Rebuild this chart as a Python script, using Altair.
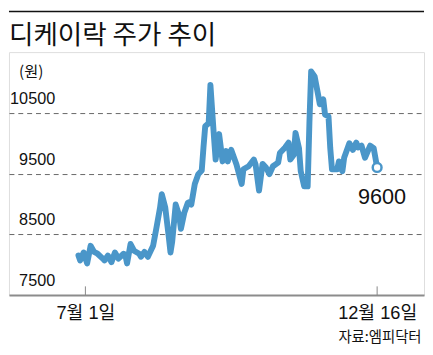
import altair as alt
import pandas as pd

# ---- data ----
dates = [
    "2020-06-27", "2020-06-28", "2020-06-30", "2020-07-02", "2020-07-04", "2020-07-06",
    "2020-07-08", "2020-07-11", "2020-07-12", "2020-07-14", "2020-07-16", "2020-07-18",
    "2020-07-20", "2020-07-23", "2020-07-24", "2020-07-25", "2020-07-27", "2020-07-29",
    "2020-08-01", "2020-08-02", "2020-08-04", "2020-08-06", "2020-08-09", "2020-08-11",
    "2020-08-13", "2020-08-14", "2020-08-16", "2020-08-18", "2020-08-19", "2020-08-20",
    "2020-08-22", "2020-08-24", "2020-08-25", "2020-08-27", "2020-08-29", "2020-08-30",
    "2020-08-31", "2020-09-02", "2020-09-04", "2020-09-06", "2020-09-07", "2020-09-08",
    "2020-09-10", "2020-09-11", "2020-09-13", "2020-09-14", "2020-09-16", "2020-09-18",
    "2020-09-20", "2020-09-21", "2020-09-23", "2020-09-26", "2020-09-29", "2020-09-30",
    "2020-10-03", "2020-10-06", "2020-10-07", "2020-10-09", "2020-10-11", "2020-10-13",
    "2020-10-15", "2020-10-17", "2020-10-20", "2020-10-21", "2020-10-24", "2020-10-26",
    "2020-10-27", "2020-10-29", "2020-10-30", "2020-11-01", "2020-11-02", "2020-11-04",
    "2020-11-06", "2020-11-07", "2020-11-08", "2020-11-10", "2020-11-12", "2020-11-13",
    "2020-11-15", "2020-11-16", "2020-11-18", "2020-11-19", "2020-11-20", "2020-11-23",
    "2020-11-24", "2020-11-26", "2020-11-27", "2020-11-30", "2020-12-02", "2020-12-04",
    "2020-12-05", "2020-12-07", "2020-12-09", "2020-12-12", "2020-12-14", "2020-12-16",
]
prices = [
    8150, 8070, 8200, 8020, 8310, 8210,
    8180, 8100, 8070, 8150, 8040, 8200,
    8100, 8180, 8160, 8020, 8340, 8230,
    8180, 8130, 8210, 8130, 8310, 8620,
    8940, 9160, 8940, 8460, 8200, 8380,
    8990, 8810, 8590, 8860, 9020, 9030,
    8990, 9330, 9490, 9550, 9930, 10280,
    10330, 10960, 10120, 9730, 10150, 9700,
    9870, 9700, 9890, 9650, 9330, 9570,
    9620, 9730, 9650, 9220, 9660, 9600,
    9490, 9620, 9680, 9840, 9930, 10010,
    9730, 9810, 10170, 9920, 9540, 9290,
    9290, 10330, 11180, 11100, 10800, 10640,
    10720, 10470, 10440, 9920, 9570, 9570,
    9700, 9540, 9760, 10000, 9890, 10010,
    9930, 9960, 9760, 9960, 9920, 9600,
]
tick_dates = ["2020-07-01", "2020-12-16"]
y_ticks = [7500, 8500, 9500, 10500]
x_domain = ["2020-05-18", "2021-01-12"]
y_domain = [7500, 11500]

title_text = "디케이락 주가 추이"
unit_text = "(원)"
source_text = "자료:엠피닥터"

# ---- styling ----
BLUE = "#4a96c9"
NUM_FONT = "Liberation Sans, Arial, Helvetica, Noto Sans CJK KR, sans-serif"
KR_FONT = "Noto Sans CJK KR"
W, H = 422, 247


def ms(d):
    return int(pd.Timestamp(d, tz="UTC").value // 10**6)


df = pd.DataFrame({"date": dates, "price": prices})
last_df = df.tail(1)
tick_df = pd.DataFrame({"date": tick_dates})

X = alt.X(
    "date:T",
    scale=alt.Scale(type="utc", domain=[ms(d) for d in x_domain]),
    axis=alt.Axis(
        values=[ms(d) for d in tick_dates],
        labelExpr="(utcmonth(datum.value) + 1) + '월 ' + utcdate(datum.value) + '일'",
        grid=False, ticks=False,
        domainColor="#8c8c8c", domainWidth=2,
        labelPadding=9, labelBaseline="top", labelAlign="center", labelFlush=False,
        labelFont=NUM_FONT, labelFontSize=18.5, labelColor="#111",
        title=source_text, titleX=419, titleY=43, titleAlign="right",
        titleBaseline="middle", titleFont=KR_FONT, titleFontSize=14.6,
        titleFontWeight="normal", titleColor="#111", minExtent=0,
    ),
)
Y = alt.Y(
    "price:Q",
    scale=alt.Scale(domain=y_domain, nice=False, zero=False),
    axis=alt.Axis(
        values=y_ticks, format="d",
        grid=True, gridDash=[5, 4], gridColor="#666", gridWidth=1,
        gridOpacity={"condition": {"test": "datum.value === 7500", "value": 0}, "value": 1},
        domain=False, ticks=False,
        labelAlign="right", labelPadding=-46.5, labelOffset=-14.5, labelBaseline="middle",
        labelFont=NUM_FONT, labelFontSize=16.5, labelColor="#111",
        title=unit_text, titleAngle=0, titleX=9.75, titleY=20, titleAlign="left",
        titleBaseline="middle", titleFont=KR_FONT, titleFontSize=15.5,
        titleFontWeight="normal", titleColor="#111", minExtent=0,
    ),
)

ticks = alt.Chart(tick_df).mark_rule(color="#888", strokeWidth=1).encode(
    x=X, y=alt.value(H), y2=alt.value(H - 8.8)
)
line = alt.Chart(df).mark_line(
    color=BLUE, strokeWidth=6, strokeJoin="round", strokeCap="round"
).encode(x=X, y=Y)
dot = alt.Chart(last_df).mark_point(
    shape="circle", filled=True, fill="white", stroke=BLUE, strokeWidth=2.5,
    size=80, opacity=1
).encode(x=X, y=Y)
label = alt.Chart(last_df).mark_text(
    font=NUM_FONT, fontSize=22, dx=5, dy=30, color="#111"
).encode(x=X, y=Y, text=alt.Text("price:Q", format="d"))
top_rule = alt.Chart(pd.DataFrame({"k": [0]})).mark_rule(
    color="#111", strokeWidth=1.5
).encode(x=alt.value(0), x2=alt.value(W), y=alt.value(-41.2))

chart = alt.layer(ticks, line, dot, label, top_rule).properties(
    width=W, height=H, padding=0,
    title=alt.TitleParams(
        title_text, anchor="start", orient="top", frame="group", offset=-40,
        font=KR_FONT, fontSize=27, fontWeight="normal", color="#111",
    ),
).configure_view(stroke=None).configure(background="white")

chart.save("out.html", embed_options={"renderer": "svg", "actions": False})
